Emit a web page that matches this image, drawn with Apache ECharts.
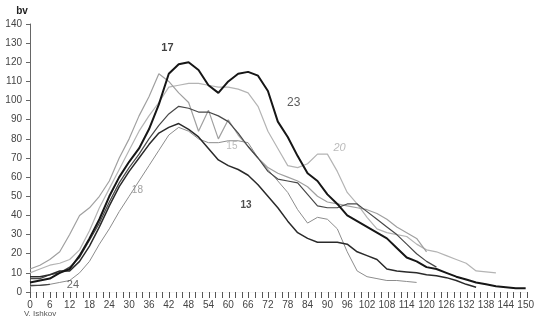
<!DOCTYPE html>
<html>
<head>
<meta charset="utf-8">
<script src="https://cdn.jsdelivr.net/npm/echarts@6/dist/echarts.min.js"></script>
<style>
  html, body { margin: 0; padding: 0; background: #fff; }
  #chart { width: 537px; height: 320px; }
</style>
</head>
<body>
<div id="chart"></div>
<script>
// x positions (every 3 units)
const xs = [0,3,6,9,12,15,18,21,24,27,30,33,36,39,42,45,48,51,54,57,60,63,66,69,72,75,78,81,84,87,90,93,96,99,102,105,108,111,114,117,120,123,126,129,132,135,138,141,144,147,150]

const s17 = [5,6,7,10,12,19,28,38,50,60,68,75,85,98,114,119,120,116,108,104,110,114,115,113,105,89,81,71,62,58,51,46,40,37,34,31,28,23,18,16,13,12,10,8,6.5,5,4,3,2.5,2,2]
const s20 = [10,12,14,15,17,22,32,44,54,64,74,84,92,99,107,108,109,109,108,107,107,106,104,97,84,75,66,65,67,72,72,63,52,46,39,33,31,30,29,25,22,21,19,17,15,11,10.5,10,null,null,null]
const s15 = [12,14,17,21,30,40,44,50,58,70,80,92,102,114,110,104,99,84,95,80,90,82,76,70,65,62,60,58,55,50,47,46,45,44,43,41,38,34,31,28,21,null,null,null,null,null,null,null,null,null,null]
const s18 = [3,3.5,4,5,6,10,16,25,33,42,50,58,66,74,82,86,84,80,78,78,79,79,78,70,64,58,52,43,36,39,38,33,21,11,8,7,6,6,5.5,5,null,null,null,null,null,null,null,null,null,null,null]
const s23 = [7,7,9,10,13,18,27,36,47,57,65,72,80,87,93,97,96,94,94,92,89,83,76,70,63,59,58,57,51,45,44,44,46,46,42,38,34,30,25,20,16,13,null,null,null,null,null,null,null,null,null]
const s13 = [8,8,9,11,11,16,24,34,45,55,63,70,77,83,86,88,85,81,75,69,66,64,61,56,50,44,37,31,28,26,26,26,25,21,19,17,12,11,10.5,10,9,8.5,7.5,6,4,2.5,null,null,null,null,null]
const s24 = [3.5,3.5,4,null,null,null,null,null,null,null,null,null,null,null,null,null,null,null,null,null,null,null,null,null,null,null,null,null,null,null,null,null,null,null,null,null,null,null,null,null,null,null,null,null,null,null,null,null,null,null,null]

// curve labels and where they sit (data units)
const labelNames = ['17', '23', '20', '15', '18', '13', '24']
const labelX = [41.6, 79.8, 93.7, 61.1, 32.5, 65.4, 13]
const labelY = [127.5, 98.7, 75.2, 76.3, 53.3, 45.5, 3.7]

const FONT = '"Liberation Sans", Arial, sans-serif'

const pairs = vals => xs.map((x, i) => [x, vals[i]])

const line = (name, vals, color, width) => ({
  name,
  type: 'line',
  data: pairs(vals),
  showSymbol: false,
  symbol: 'none',
  connectNulls: false,
  lineStyle: { color, width },
  z: 3
})

const labelStyles = {
  '17': { color: '#111', fontWeight: 'bold', fontSize: 11 },
  '23': { color: '#333', fontSize: 12 },
  '20': { color: '#aaa', fontStyle: 'italic', fontSize: 11 },
  '15': { color: '#aaa', fontSize: 10 },
  '18': { color: '#888', fontSize: 10 },
  '13': { color: '#222', fontWeight: 'bold', fontSize: 10 },
  '24': { color: '#444', fontSize: 11 }
}

const chart = echarts.init(document.getElementById('chart'))

chart.setOption({
  animation: false,
  grid: [
    { left: 30, right: 10, top: 24, bottom: 28 },
    // thin strip at the bottom edge, only carries the tick row
    { left: 30, right: 10, top: 291, height: 1 }
  ],
  xAxis: [
    {
      type: 'value',
      gridIndex: 0,
      min: 0,
      max: 150,
      interval: 6,
      axisLine: { show: false },
      axisTick: { show: false },
      splitLine: { show: false },
      axisLabel: { color: '#444', fontSize: 10, margin: 8, fontFamily: FONT, hideOverlap: false }
    },
    {
      type: 'value',
      gridIndex: 1,
      min: 0,
      max: 150,
      interval: 6,
      axisLine: { show: true, lineStyle: { color: '#f4f4f4' } },
      axisTick: { show: true, length: 6, lineStyle: { color: '#555' } },
      minorTick: { show: true, splitNumber: 3, length: 6, lineStyle: { color: '#555' } },
      splitLine: { show: false },
      axisLabel: { show: false }
    }
  ],
  yAxis: [
    {
      type: 'value',
      gridIndex: 0,
      min: 0,
      max: 140,
      interval: 10,
      name: 'bv',
      nameGap: 8,
      nameTextStyle: { color: '#222', fontSize: 10, fontWeight: 'bold', padding: [0, 16, 0, 0], fontFamily: FONT },
      axisLine: { show: true, lineStyle: { color: '#666' } },
      axisTick: { show: true, length: 4, lineStyle: { color: '#666' } },
      splitLine: { show: true, lineStyle: { color: 'rgba(0,0,0,0)' } },
      axisLabel: { color: '#444', fontSize: 10, margin: 8, fontFamily: FONT }
    },
    {
      type: 'value',
      gridIndex: 1,
      min: 0,
      max: 1,
      show: false
    }
  ],
  graphic: [
    { type: 'text', left: 24, top: 310, style: { text: 'V. Ishkov', fill: '#555', font: '8px ' + FONT } }
  ],
  series: [
    line('20', s20, '#b4b4b4', 1.2),
    line('15', s15, '#a0a0a0', 1.2),
    line('18', s18, '#8c8c8c', 1),
    line('23', s23, '#484848', 1.2),
    line('13', s13, '#2a2a2a', 1.5),
    line('24', s24, '#444', 1.2),
    line('17', s17, '#161616', 2),
    {
      name: 'labels',
      type: 'scatter',
      symbolSize: 0,
      silent: true,
      z: 5,
      data: labelNames.map((n, i) => ({
        value: [labelX[i], labelY[i]],
        name: n,
        label: Object.assign({ show: true, position: 'inside', formatter: n, fontFamily: FONT }, labelStyles[n])
      }))
    }
  ]
})
</script>
</body>
</html>
